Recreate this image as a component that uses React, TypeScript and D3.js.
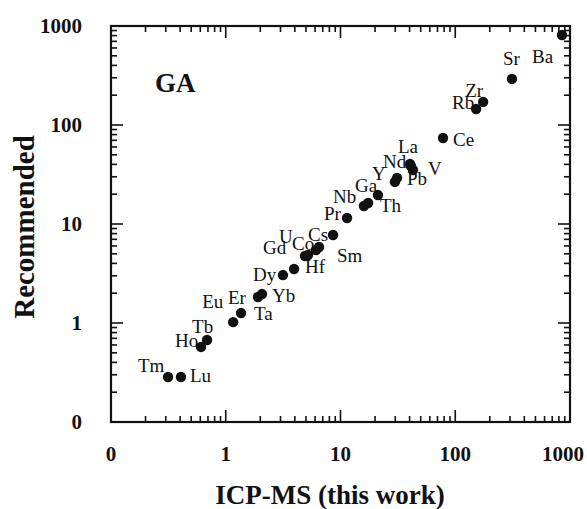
import { useEffect, useRef } from 'react';
import * as d3 from 'd3';

// element symbols and concentrations (ppm)
const elements = ['Tm', 'Lu', 'Ho', 'Tb', 'Eu', 'Ta', 'Er', 'Yb', 'Dy', 'Hf', 'Gd', 'U', 'Co', 'Sm', 'Cs',
  'Pr', 'Nb', 'Ga', 'Th', 'Y', 'Pb', 'Nd', 'La', 'V', 'Ce', 'Rb', 'Zr', 'Sr', 'Ba'];
const icpms = [0.314, 0.407, 0.609, 0.687, 1.16, 1.36, 1.91, 2.07, 3.15, 3.94, 4.91, 5.21, 6.12, 6.5, 8.61,
  11.4, 16.0, 17.4, 21.2, 29.8, 31.1, 41.1, 40.3, 42.8, 78.2, 152, 175, 312, 851];
const recommended = [0.285, 0.285, 0.573, 0.673, 1.02, 1.26, 1.83, 1.96, 3.05, 3.51, 4.75, 4.86, 5.46, 5.86, 7.74,
  11.5, 15.2, 16.3, 19.6, 26.6, 29.2, 38.5, 40.4, 35.1, 73.9, 145, 171, 292, 811];

const majorTicks = [0.1, 1, 10, 100, 1000];
const majorLabels = ['0', '1', '10', '100', '1000'];

// label placement next to each dot (dx, dy in px)
const labelOffsets: [number, number][] = [
  [-30, -5], [9, 5], [-26, 0], [-15, -7], [-31, -14], [13, 7], [-30, 7], [10, 8], [-30, 6], [11, 4],
  [-42, -2], [-29, -12], [-24, 0], [18, 15], [-25, 6], [-23, 2], [-31, -3], [-13, -11], [2, 17], [-23, -2],
  [10, 7], [-28, 2], [-12, -11], [15, 5], [10, 8], [-24, 0], [-18, -5], [-9, -14], [-30, 28],
];

const W = 587;
const H = 509;
const FONT = '"Liberation Serif", "Times New Roman", serif';

export default function App() {
  const ref = useRef<SVGSVGElement>(null);

  useEffect(() => {
    if (!ref.current) return;
    const svg = d3.select(ref.current);
    svg.selectAll('*').remove();

    const left = 111, right = 570, top = 26, bottom = 422;
    const x = d3.scaleLog().domain([0.1, 1000]).range([left, right]);
    const y = d3.scaleLog().domain([0.1, 1000]).range([bottom, top]);

    const minor: number[] = [];
    [0.1, 1, 10, 100].forEach(d => {
      for (let k = 2; k <= 9; k++) minor.push(d * k);
    });

    const g = svg.append('g');

    // ticks, pointing inward on all four sides
    const tick = (v: number, len: number) => {
      g.append('line').attr('x1', x(v)).attr('x2', x(v)).attr('y1', bottom).attr('y2', bottom - len)
        .attr('stroke', '#111').attr('stroke-width', 1.6);
      g.append('line').attr('x1', x(v)).attr('x2', x(v)).attr('y1', top).attr('y2', top + len)
        .attr('stroke', '#111').attr('stroke-width', 1.6);
      g.append('line').attr('y1', y(v)).attr('y2', y(v)).attr('x1', left).attr('x2', left + len)
        .attr('stroke', '#111').attr('stroke-width', 1.6);
      g.append('line').attr('y1', y(v)).attr('y2', y(v)).attr('x1', right).attr('x2', right - len)
        .attr('stroke', '#111').attr('stroke-width', 1.6);
    };
    minor.forEach(v => tick(v, 6));
    majorTicks.slice(1, -1).forEach(v => tick(v, 12));

    g.append('rect')
      .attr('x', left).attr('y', top)
      .attr('width', right - left).attr('height', bottom - top)
      .attr('fill', 'none').attr('stroke', '#111').attr('stroke-width', 2.2);

    // tick labels
    g.selectAll('.xl').data(majorTicks).enter().append('text')
      .attr('x', (d, i) => x(d) - (i === majorTicks.length - 1 ? 7 : 0)).attr('y', 461)
      .attr('text-anchor', 'middle')
      .attr('font-family', FONT).attr('font-weight', 'bold').attr('font-size', 21)
      .attr('fill', '#111')
      .text((d, i) => majorLabels[i]);

    g.selectAll('.yl').data(majorTicks).enter().append('text')
      .attr('x', 82).attr('y', d => y(d) + 7)
      .attr('text-anchor', 'end')
      .attr('font-family', FONT).attr('font-weight', 'bold').attr('font-size', 21)
      .attr('fill', '#111')
      .text((d, i) => majorLabels[i]);

    // axis titles
    g.append('text')
      .attr('x', 330).attr('y', 504)
      .attr('text-anchor', 'middle')
      .attr('font-family', FONT).attr('font-weight', 'bold').attr('font-size', 27)
      .attr('fill', '#111')
      .text('ICP-MS (this work)');

    g.append('text')
      .attr('transform', `translate(34,227) rotate(-90)`)
      .attr('text-anchor', 'middle')
      .attr('font-family', FONT).attr('font-weight', 'bold').attr('font-size', 29)
      .attr('fill', '#111')
      .text('Recommended');

    g.append('text')
      .attr('x', 155).attr('y', 92)
      .attr('font-family', FONT).attr('font-weight', 'bold').attr('font-size', 27)
      .attr('fill', '#111')
      .text('GA');

    const pts = elements.map((e, i) => ({ e, xv: icpms[i], yv: recommended[i], off: labelOffsets[i] }));

    g.selectAll('.dot').data(pts).enter().append('circle')
      .attr('cx', d => x(d.xv)).attr('cy', d => y(d.yv))
      .attr('r', 5.2).attr('fill', '#111');

    g.selectAll('.lab').data(pts).enter().append('text')
      .attr('x', d => x(d.xv) + d.off[0]).attr('y', d => y(d.yv) + d.off[1])
      .attr('font-family', FONT).attr('font-size', 19)
      .attr('fill', '#111')
      .text(d => d.e);
  }, []);

  return (
    <svg ref={ref} width={W} height={H}
      style={{ position: 'absolute', left: 0, top: 0, background: '#fff' }} />
  );
}
